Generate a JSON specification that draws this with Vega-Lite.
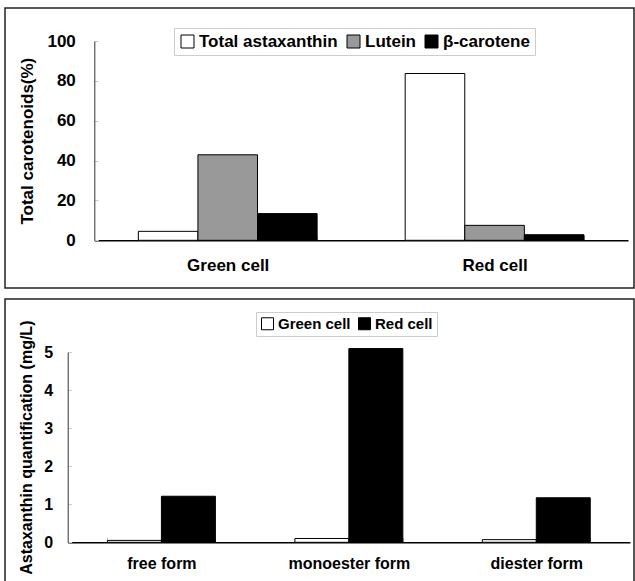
{
  "$schema": "https://vega.github.io/schema/vega-lite/v6.json",
  "padding": {"left": 4, "top": 7, "right": 0, "bottom": 0},
  "background": "#ffffff",
  "spacing": 9,
  "resolve": {"scale": {"color": "independent", "xOffset": "independent", "x": "independent", "y": "independent"}, "legend": {"color": "independent"}, "axis": {"x": "independent", "y": "independent"}},
  "config": {
    "font": "Liberation Sans",
    "axis": {"grid": false, "labelFont": "Liberation Sans", "labelFontWeight": "bold", "labelColor": "#000", "titleFont": "Liberation Sans", "titleFontWeight": "bold", "titleColor": "#000"},
    "legend": {"labelFont": "Liberation Sans", "labelFontWeight": "bold", "labelColor": "#000"}
  },
  "datasets": {
    "top": [
      {"cell": "Green cell", "pigment": "Total astaxanthin", "value": 4.5},
      {"cell": "Green cell", "pigment": "Lutein", "value": 42.9},
      {"cell": "Green cell", "pigment": "β-carotene", "value": 13.4},
      {"cell": "Red cell", "pigment": "Total astaxanthin", "value": 83.7},
      {"cell": "Red cell", "pigment": "Lutein", "value": 7.5},
      {"cell": "Red cell", "pigment": "β-carotene", "value": 2.8}
    ],
    "bottom": [
      {"form": "free form", "cell": "Green cell", "value": 0.05},
      {"form": "free form", "cell": "Red cell", "value": 1.21},
      {"form": "monoester form", "cell": "Green cell", "value": 0.1},
      {"form": "monoester form", "cell": "Red cell", "value": 5.09},
      {"form": "diester form", "cell": "Green cell", "value": 0.07},
      {"form": "diester form", "cell": "Red cell", "value": 1.17}
    ]
  },
  "vconcat": [
    {
      "width": 629,
      "height": 280,
      "view": {"stroke": "#222", "strokeWidth": 1.5},
      "data": {"name": "top"},
      "mark": {"type": "bar", "stroke": "#000", "strokeWidth": 1},
      "encoding": {
        "x": {
          "field": "cell", "type": "nominal", "sort": ["Green cell", "Red cell"],
          "scale": {"range": [89.3, 623], "paddingInner": 0.33, "paddingOuter": 0.165},
          "axis": {"title": null, "labelAngle": 0, "offset": -47.7, "tickBand": "extent", "tickSize": -5, "tickColor": "#bbb", "domainColor": "#000", "domainWidth": 1.5, "labelFontSize": 17, "labelPadding": 22}
        },
        "xOffset": {"field": "pigment", "type": "nominal", "sort": ["Total astaxanthin", "Lutein", "β-carotene"], "scale": {"paddingInner": 0, "paddingOuter": 0}},
        "y": {
          "field": "value", "type": "quantitative",
          "scale": {"domain": [0, 100], "range": [232.3, 33], "nice": false},
          "axis": {"title": "Total carotenoids(%)", "values": [0, 20, 40, 60, 80, 100], "offset": -89.3, "tickSize": -4, "tickColor": "#ccc", "domainColor": "#333", "labelFontSize": 17, "labelPadding": 23, "titleFontSize": 17, "titlePadding": 10}
        },
        "color": {
          "field": "pigment", "type": "nominal",
          "scale": {"domain": ["Total astaxanthin", "Lutein", "β-carotene"], "range": ["#ffffff", "#999999", "#000000"]},
          "legend": {"title": null, "orient": "none", "legendX": 169, "legendY": 20, "direction": "horizontal", "symbolType": "square", "symbolSize": 169, "symbolStrokeColor": "#000", "symbolStrokeWidth": 1, "labelFontSize": 17, "labelOffset": 3, "columnPadding": 7, "padding": 5, "strokeColor": "#ccc"}
        }
      }
    },
    {
      "width": 629,
      "height": 290,
      "view": {"stroke": "#222", "strokeWidth": 1.5},
      "data": {"name": "bottom"},
      "mark": {"type": "bar", "stroke": "#000", "strokeWidth": 1},
      "encoding": {
        "x": {
          "field": "form", "type": "nominal", "sort": ["free form", "monoester form", "diester form"],
          "scale": {"range": [62.7, 625], "paddingInner": 0.424, "paddingOuter": 0.212},
          "axis": {"title": null, "labelAngle": 0, "offset": -46.7, "tickBand": "extent", "tickSize": -5, "tickColor": "#bbb", "domainColor": "#000", "domainWidth": 1.5, "labelFontSize": 16, "labelPadding": 18}
        },
        "xOffset": {"field": "cell", "type": "nominal", "sort": ["Green cell", "Red cell"], "scale": {"paddingInner": 0, "paddingOuter": 0}},
        "y": {
          "field": "value", "type": "quantitative",
          "scale": {"domain": [0, 5], "range": [243.3, 53], "nice": false},
          "axis": {"title": "Astaxanthin quantification (mg/L)", "values": [0, 1, 2, 3, 4, 5], "offset": -62.7, "tickSize": -4, "tickColor": "#ccc", "domainColor": "#333", "labelFontSize": 16, "labelPadding": 19, "titleFontSize": 16, "titlePadding": 9}
        },
        "color": {
          "field": "cell", "type": "nominal",
          "scale": {"domain": ["Green cell", "Red cell"], "range": ["#ffffff", "#000000"]},
          "legend": {"title": null, "orient": "none", "legendX": 251, "legendY": 13, "direction": "horizontal", "symbolType": "square", "symbolSize": 144, "symbolStrokeColor": "#000", "symbolStrokeWidth": 1, "labelFontSize": 15, "labelOffset": 3, "columnPadding": 5, "padding": 4, "strokeColor": "#ccc"}
        }
      }
    }
  ]
}
